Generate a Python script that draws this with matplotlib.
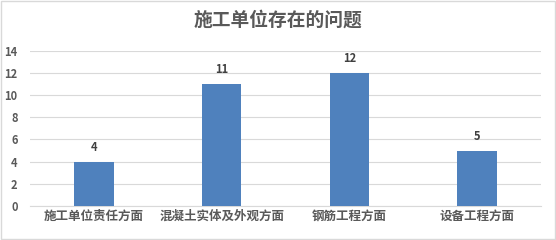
import matplotlib
matplotlib.use('Agg')
import matplotlib.pyplot as plt
from matplotlib.patches import Rectangle

plt.rcParams['font.family'] = ['Noto Sans CJK SC', 'DejaVu Sans']

categories = ['施工单位责任方面', '混凝土实体及外观方面', '钢筋工程方面', '设备工程方面']
values = [4, 11, 12, 5]
title = '施工单位存在的问题'

GRAY = '#595959'
BAR = '#4F81BD'

fig = plt.figure(figsize=(5.56, 2.40), dpi=100)
ax = fig.add_axes([0.054, 0.142, 0.919, 0.646])

x = range(len(categories))
ax.bar(x, values, width=0.31, color=BAR, zorder=3)
for xi, v in zip(x, values):
    ax.text(xi, v + 0.7, str(v), ha='center', va='bottom', fontsize=8,
            fontweight='bold', color='#404040')

ax.set_xlim(-0.5, len(categories) - 0.5)
ax.set_ylim(0, 14)
ax.set_yticks(range(0, 15, 2))
ax.set_xticks(list(x))
ax.set_xticklabels(categories, fontsize=9, fontweight='bold', color=GRAY)
ax.tick_params(axis='y', labelsize=8, colors=GRAY, length=0, pad=9)
ax.tick_params(axis='x', length=0, pad=3)
for lab in ax.get_yticklabels():
    lab.set_fontweight('bold')
ax.yaxis.grid(True, color='#D9D9D9', linewidth=0.8, zorder=0)
for s in ['top', 'right', 'left']:
    ax.spines[s].set_visible(False)
ax.spines['bottom'].set_color('#D9D9D9')

fig.text(0.5, 0.915, title, ha='center', va='center', fontsize=13.5,
         fontweight='bold', color=GRAY)

fig.patches.append(Rectangle((0.002, 0.004), 0.996, 0.992, transform=fig.transFigure,
                             fill=False, edgecolor='#D9D9D9', linewidth=1))

fig.savefig('out.png', dpi=100)
